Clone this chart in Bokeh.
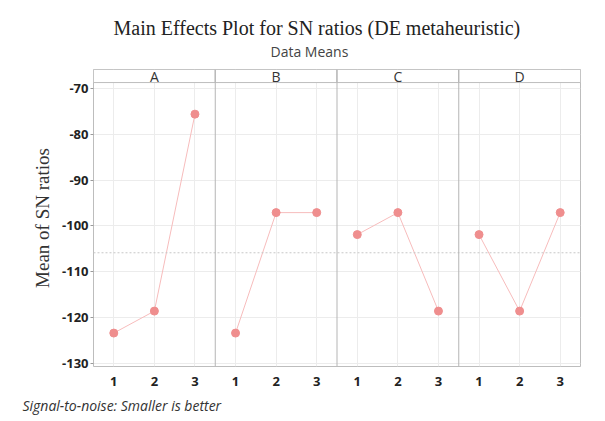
from bokeh.plotting import figure
from bokeh.models import Span, Title, FixedTicker, Range1d, ColumnDataSource
from bokeh.core.properties import value
from bokeh.embed import file_html
from bokeh.resources import INLINE

# ---- data ----
factors = ["A", "B", "C", "D"]
levels = ["1", "2", "3"]
A_means = [-123.4, -118.6, -75.6]
B_means = [-123.4, -97.1, -97.1]
C_means = [-101.9, -97.1, -118.6]
D_means = [-101.9, -118.6, -97.1]
y_ticks = [-70, -80, -90, -100, -110, -120, -130]

series = [A_means, B_means, C_means, D_means]
all_vals = [v for s in series for v in s]
grand_mean = sum(all_vals) / len(all_vals)

nlev = len(levels)
nfac = len(factors)

y_bottom, y_top = -130.7, -68.7
strip_top = -65.85

p = figure(width=605, height=421, output_backend="svg", toolbar_location=None,
           x_range=Range1d(0.5, nfac * nlev + 0.5),
           y_range=Range1d(y_bottom, strip_top),
           min_border_left=93, min_border_right=25, min_border_top=69,
           min_border_bottom=55)

p.background_fill_color = "white"
p.border_fill_color = "white"
p.outline_line_color = "#bdbdbd"
p.outline_line_width = 1

# grid
p.xgrid.grid_line_color = "#ececec"
p.ygrid.grid_line_color = "#ececec"

# axes
xt = [i * nlev + j + 1 for i in range(nfac) for j in range(nlev)]
p.xaxis.ticker = FixedTicker(ticks=xt)
p.xaxis.major_label_overrides = {t: levels[(t - 1) % nlev] for t in xt}
p.xaxis.axis_line_color = None
p.xaxis.major_tick_line_color = None
p.xaxis.minor_tick_line_color = None
p.xaxis.major_label_text_font = "Open Sans"
p.xaxis.major_label_text_font_size = "13px"
p.xaxis.major_label_text_font_style = "bold"
p.xaxis.major_label_text_color = "#222222"
p.xaxis.major_label_standoff = 4

p.yaxis.ticker = FixedTicker(ticks=y_ticks)
p.yaxis.major_label_overrides = {t: str(t) for t in y_ticks}
p.yaxis.axis_line_color = None
p.yaxis.major_tick_line_color = "#9a9a9a"
p.yaxis.major_tick_in = 0
p.yaxis.major_tick_out = 3
p.yaxis.minor_tick_line_color = None
p.yaxis.major_label_text_font = "Open Sans"
p.yaxis.major_label_text_font_size = "13px"
p.yaxis.major_label_text_font_style = "bold"
p.yaxis.major_label_text_color = "#222222"
p.yaxis.major_label_standoff = 2
p.yaxis.axis_label = "Mean of SN ratios"
p.yaxis.axis_label_text_font = "Liberation Serif"
p.yaxis.axis_label_text_font_size = "19px"
p.yaxis.axis_label_text_font_style = "normal"
p.yaxis.axis_label_text_color = "#333333"
p.yaxis.axis_label_standoff = 6

# mean reference line
p.add_layout(Span(location=grand_mean, dimension="width", line_color="#c8c8c8",
                  line_dash="2 2", line_width=1))

# strips
strip_src = ColumnDataSource(dict(
    left=[i * nlev + 0.5 for i in range(nfac)],
    right=[(i + 1) * nlev + 0.5 for i in range(nfac)],
    x=[i * nlev + (nlev + 1) / 2 for i in range(nfac)],
    label=factors,
))
p.quad(left="left", right="right", bottom=y_top, top=strip_top, source=strip_src,
       fill_color="white", line_color="#bdbdbd", line_width=1)
p.text(x="x", y=(y_top + strip_top) / 2, text="label", source=strip_src,
       text_align="center", text_baseline="middle", text_font=value("Open Sans"),
       text_font_size="14px", text_color="#333333")

# panel separators
for i in range(1, nfac):
    p.add_layout(Span(location=i * nlev + 0.5, dimension="height",
                      line_color="#b5b5b5", line_width=1))

# data lines & points
for i, s in enumerate(series):
    xs = [i * nlev + j + 1 for j in range(nlev)]
    p.line(xs, s, line_color="#f7bcbc", line_width=1)
    p.scatter(xs, s, size=8, fill_color="#ef8e8e", line_color="#ef8e8e")

# titles
p.add_layout(Title(text="Data Means", text_font="Open Sans", text_font_size="14px",
                   text_font_style="normal", text_color="#444444",
                   align="left", offset=177, standoff=18), "above")
p.add_layout(Title(text="Main Effects Plot for SN ratios (DE metaheuristic)",
                   text_font="Liberation Serif", text_font_size="20px",
                   text_font_style="normal", text_color="#222222",
                   align="left", offset=20, standoff=-17), "above")
p.add_layout(Title(text=" ", text_font_size="4px", standoff=0), "above")

p.add_layout(Title(text="Signal-to-noise: Smaller is better", text_font="Open Sans",
                   text_font_size="14px", text_font_style="italic",
                   text_color="#333333", align="left", offset=-71), "below")

open("out.html", "w").write(file_html(p, INLINE))
